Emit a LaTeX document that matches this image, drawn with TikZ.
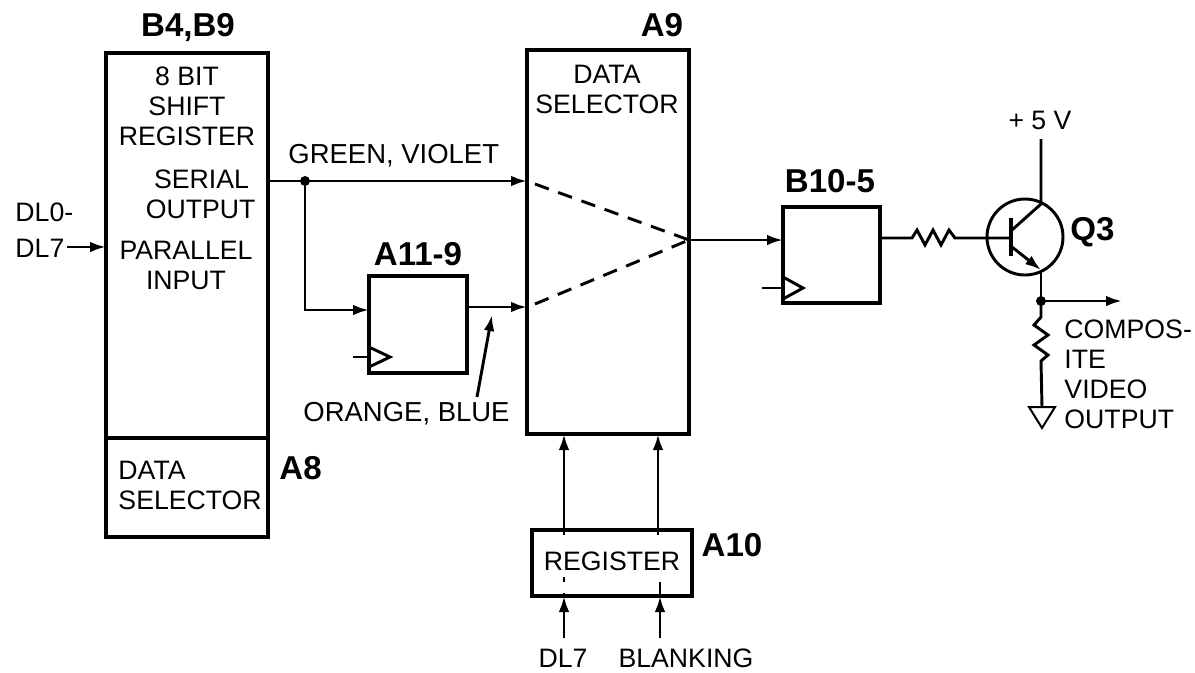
\documentclass[tikz,border=0pt]{standalone}
\usepackage{fontspec}
\setmainfont{Liberation Sans}
\usetikzlibrary{arrows.meta}

\tikzset{
  every picture/.style={line width=2.2pt},
  blockbox/.style={draw, line width=3pt, outer sep=0pt, inner sep=0pt},
  lbl/.style={font=\fontsize{20}{22.5}\selectfont, inner sep=0pt},
  widelbl/.style={font=\fontsize{20.6}{22.5}\selectfont, inner sep=0pt},
  boldlbl/.style={font=\fontsize{24.8}{25}\selectfont\bfseries, inner sep=0pt},
  wire/.style={-{Latex[length=12pt,width=8pt]}},
  dashwire/.style={dash pattern=on 11pt off 7.5pt},
  clocktri/.style={line width=2.2pt}
}

\begin{document}
\begin{tikzpicture}[x=0.75pt,y=0.75pt,yscale=-1]
\useasboundingbox (0,0) rectangle (1195,672);
% Blocks
\node (shiftbox) [blockbox, minimum width=121.5pt, minimum height=363pt] at (187,295) {};
\node (selbox) [blockbox, minimum width=121.5pt, minimum height=288pt] at (608,242) {};
\node (delaybox) [blockbox, minimum width=73.5pt, minimum height=72.75pt] at (418,324.5) {};
\node (latchbox) [blockbox, minimum width=72.75pt, minimum height=72pt] at (831.5,255) {};
\node (regbox) [blockbox, minimum width=120pt, minimum height=49.5pt] at (612,563) {};
\draw [line width=3pt] (shiftbox.west |- 0,438) -- (shiftbox.east |- 0,438);
% Transistor
\node (q3) [draw, circle, line width=2.2pt, minimum size=57pt, inner sep=0pt, outer sep=0pt] at (1025,237) {};
\coordinate (qbase) at (1010,238);
\coordinate (qcoll) at (1041,204);
\coordinate (qemit) at (1041,270);
\coordinate (qbarc) at (1012,230);
\coordinate (qbare) at (1012,247);
\coordinate (vtop) at (1041,139);
\coordinate (vdot) at (1041,301);
\coordinate (vout) at (1122,301);
\coordinate (gndtop) at (1042,407);
% Junctions
\coordinate (splitdot) at (305,181);
\coordinate (mixpt) at (689,240);
\coordinate (dlin) at (67,247);
\coordinate (cuea) at (477,397);
\coordinate (cueb) at (492,315);
\coordinate (regina) at (564,638);
\coordinate (reginb) at (660,638);
%Straight Lines
\draw [wire] (shiftbox.east |- splitdot) -- (selbox.west |- splitdot);
\fill (splitdot) circle [radius=5];
\draw [wire] (splitdot) |- (delaybox.west |- 0,310);
\draw [wire] (delaybox.east |- 0,307) -- (selbox.west |- 0,307);
\draw [dashwire] (selbox.west |- splitdot) ++(8,3) -- (mixpt);
\draw [dashwire] (selbox.west |- 0,307) ++(8,-3) -- (mixpt);
\draw [wire] (mixpt) -- (latchbox.west |- mixpt);
\draw [wire] (dlin) -- (shiftbox.west |- dlin);
\draw [wire] (cuea) -- (cueb);
\draw [wire] (regbox.north -| regina) -- (selbox.south -| regina);
\draw [wire] (regbox.north -| reginb) ++(-2,0) -- ++(0,-96);
\draw [wire] (regina) -- (regbox.south -| regina);
\draw [wire] (reginb) -- (regbox.south -| reginb);
\draw (regbox.north -| regina) -- ++(0,5);
\draw (regbox.north -| reginb) ++(-2,0) -- ++(0,5);
\draw (regbox.south -| regina) -- ++(0,-3);
\draw (regbox.south -| regina) ++(0,-14) -- ++(0,-5);
\draw (regbox.south -| reginb) -- ++(0,-14);
% Clock inputs
\draw [clocktri] (delaybox.west |- 0,347) -- (390,357) -- (delaybox.west |- 0,367);
\draw (353,357) -- (delaybox.west |- 0,357);
\draw [clocktri] (latchbox.west |- 0,277) -- (803,288) -- (latchbox.west |- 0,299);
\draw (762,288) -- (latchbox.west |- 0,288);
% Resistors and transistor leads
\draw (latchbox.east |- qbase) -- (912,238) -- ++(5,-8) -- ++(8,15) -- ++(8,-15) -- ++(8,15) -- ++(8,-15) -- ++(6,8) -- (q3.west |- qbase) -- (qbase);
\draw [line width=3pt] (1011,218) -- (1011,256);
\draw (qbarc) -- (qcoll) -- (vtop);
\draw [wire] (qbare) -- (qemit);
\draw (qemit) -- (vdot);
\fill (vdot) circle [radius=5];
\draw [wire] (vdot) -- (vout);
\draw (vdot) -- (1041,317) -- ++(-7,8) -- ++(14,10) -- ++(-14,10) -- ++(14,10) -- ++(-7,6) -- (gndtop);
\draw [line width=1.5pt] (gndtop) -- (1029,407) -- (1042,428) -- (1055,407) -- (gndtop);
% Text Node
\node (tb4) [boldlbl] at (188,28) {B4,B9};
\node (ta9) [boldlbl] at (662,25) {A9};
\node (ta8) [boldlbl, anchor=west] at (278,468) {A8};
\node (ta11) [boldlbl] at (418,254) {A11-9};
\node (tb10) [boldlbl] at (830,181) {B10-5};
\node (ta10) [boldlbl] at (732,545) {A10};
\node (tq3) [boldlbl, anchor=west] at (1069,232) {Q3};
\node (tshift) [lbl, align=center, anchor=north] at (187,65) {8 BIT\\SHIFT\\REGISTER};
\node (tserial) [lbl, align=right, anchor=north east] at (257,168) {SERIAL\hspace*{5pt}\\OUTPUT};
\node (tpar) [lbl, align=center, anchor=north] at (186,240) {PARALLEL\\INPUT};
\node (tsela) [lbl, align=left, anchor=north west] at (117,460) {DATA\\SELECTOR};
\node (tselb) [lbl, align=center, anchor=north] at (607,64) {DATA\\SELECTOR};
\node (tgreen) [widelbl, anchor=west] at (287,156) {GREEN, VIOLET};
\node (torange) [widelbl, anchor=west] at (302,414) {ORANGE, BLUE};
\node (tdla) [lbl, anchor=west] at (14,212) {DL0-};
\node (tdlc) [lbl, anchor=west] at (14,248) {DL7};
\node (treg) [lbl] at (612,561) {REGISTER};
\node (tdlb) [lbl] at (563,658) {DL7};
\node (tblank) [lbl] at (686,658) {BLANKING};
\node (tfive) [lbl] at (1040,120) {+ 5 V};
\node (tvideo) [lbl, align=left, anchor=north west] at (1063,318) {COMPOS-\\ITE\\VIDEO\\OUTPUT};
\end{tikzpicture}
\end{document}
